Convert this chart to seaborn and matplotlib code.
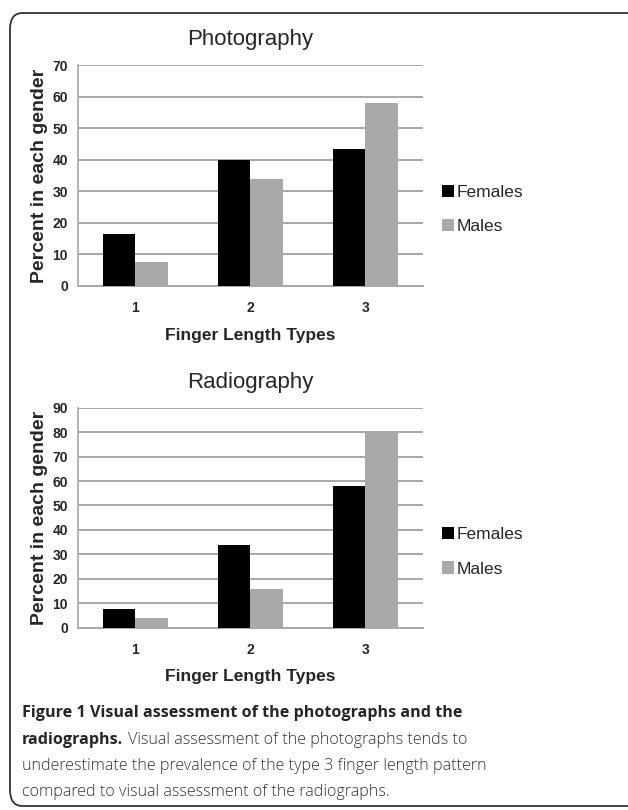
import numpy as np
import pandas as pd
import matplotlib
matplotlib.use("Agg")
import matplotlib.pyplot as plt
from matplotlib.patches import FancyBboxPatch, Patch
import seaborn as sns

# Data
types = ["1", "2", "3"]
photo_females = [16.3, 40.0, 43.4]
photo_males = [7.4, 34.0, 58.0]
radio_females = [7.7, 33.8, 58.1]
radio_males = [3.8, 15.8, 80.0]
genders = ["Females", "Males"]
bar_colors = ["#000000", "#a9a9a9"]

sns.set_style("white")
plt.rcParams["font.family"] = ["Liberation Sans", "DejaVu Sans"]

W, H = 628, 810
fig = plt.figure(figsize=(W / 100, H / 100), dpi=100)


def px_axes(left, top, right, bottom):
    return fig.add_axes([left / W, 1 - bottom / H, (right - left) / W, (bottom - top) / H])


def draw_panel(ax, females, males, ymax, step, title, title_y, tick_y, label_y, show_ticks):
    df = pd.DataFrame({
        "Type": types * 2,
        "Gender": [genders[0]] * 3 + [genders[1]] * 3,
        "Percent": females + males,
    })
    sns.barplot(data=df, x="Type", y="Percent", hue="Gender", palette=bar_colors,
                width=0.565, saturation=1, ax=ax, legend=False, zorder=3, linewidth=0)
    ax.set_xlim(-0.5, 2.5)
    ax.set_ylim(0, ymax)
    ax.set_yticks(np.arange(0, ymax + 1, step))
    ax.yaxis.grid(True, color="#a8a8a8", lw=1.4, zorder=0)
    ax.set_axisbelow(True)
    for s in ["top", "right"]:
        ax.spines[s].set_visible(False)
    ax.spines["left"].set_color("#a8a8a8")
    ax.spines["bottom"].set_color("#a8a8a8")
    ax.spines["left"].set_linewidth(1.2)
    ax.spines["bottom"].set_linewidth(1.4)
    ax.set_xlabel("")
    ax.set_ylabel("Percent in each gender", fontsize=14, fontweight="bold", labelpad=3)
    ax.tick_params(axis="y", length=4, color="#a8a8a8", labelsize=10, pad=3)
    for lab in ax.get_yticklabels():
        lab.set_fontweight("bold")
    ax.set_xticks([])
    if show_ticks:
        ax.set_xticks([0.5, 1.5, 2.5], minor=True)
        ax.tick_params(axis="x", which="minor", length=4, color="#a8a8a8")
    # category labels and axis title
    for i, t in enumerate(types):
        fig.text((77.7 + 115 * (i + 0.5)) / W, 1 - tick_y / H, t, ha="center", va="center",
                 fontsize=10, fontweight="bold")
    fig.text(250 / W, 1 - label_y / H, "Finger Length Types", ha="center", va="center",
             fontsize=12.5, fontweight="bold")
    fig.text(250 / W, 1 - title_y / H, title, ha="center", va="center", fontsize=16)
    handles = [Patch(facecolor=c, edgecolor="none") for c in bar_colors]
    ax.legend(handles, genders, loc="center left", bbox_to_anchor=(1.01, 0.345),
              frameon=False, fontsize=12.5, handlelength=0.7, handleheight=0.7,
              handletextpad=0.15, labelspacing=1.1)


ax1 = px_axes(77.7, 65.3, 422.7, 285.7)
draw_panel(ax1, photo_females, photo_males, 70, 10, "Photography", 40, 308, 335, False)

ax2 = px_axes(77.7, 407.7, 422.7, 627.7)
draw_panel(ax2, radio_females, radio_males, 90, 10, "Radiography", 382, 650, 677, True)

# rounded frame
frame = FancyBboxPatch((10 / W, 4 / H), 700 / W, (H - 17) / H,
                       boxstyle="round,pad=0,rounding_size=0.02",
                       transform=fig.transFigure, fill=False, edgecolor="#333333", lw=1.3)
fig.patches.append(frame)

# caption
cap = "Open Sans"
cs = 11.6
fig.text(22 / W, 1 - 713 / H, "Figure 1 Visual assessment of the photographs and the",
         fontsize=cs, fontweight="bold", family=cap, va="center")
t = fig.text(22 / W, 1 - 740 / H, "radiographs.", fontsize=cs, fontweight="bold",
             family=cap, va="center")
fig.canvas.draw()
x_end = t.get_window_extent(fig.canvas.get_renderer()).x1
fig.text((x_end + 5) / W, 1 - 740 / H, "Visual assessment of the photographs tends to",
         fontsize=cs, fontweight="light", family=cap, va="center", color="#333333")
fig.text(22 / W, 1 - 766 / H, "underestimate the prevalence of the type 3 finger length pattern",
         fontsize=cs, fontweight="light", family=cap, va="center", color="#333333")
fig.text(22 / W, 1 - 792 / H, "compared to visual assessment of the radiographs.",
         fontsize=cs, fontweight="light", family=cap, va="center", color="#333333")

fig.savefig("out.png", dpi=100)
